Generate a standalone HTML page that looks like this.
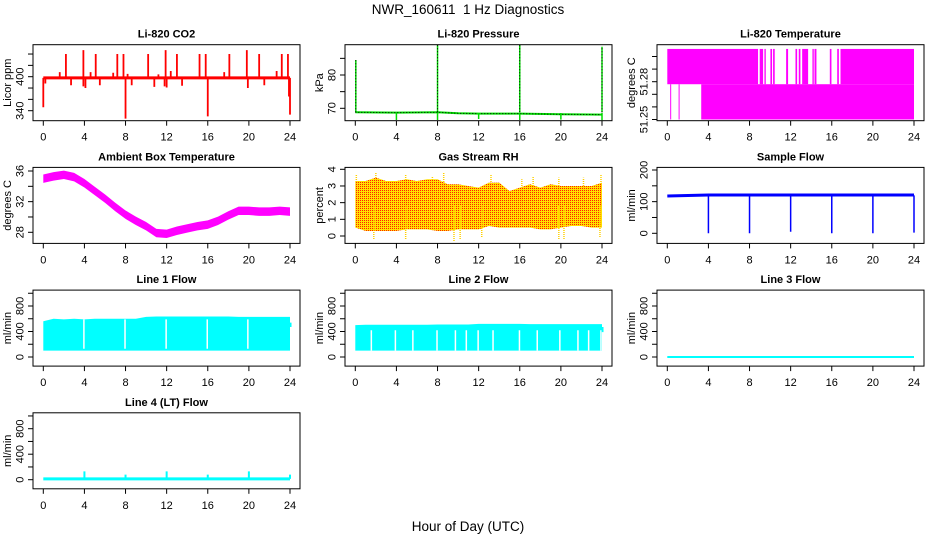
<!DOCTYPE html>
<html><head><meta charset="utf-8"><style>
html,body{margin:0;padding:0;background:#fff;overflow:hidden}
svg{display:block;font-family:"Liberation Sans",sans-serif}
</style></head><body>
<svg id="chart" width="936" height="540" viewBox="0 0 936 540">
<defs>
<pattern id="rhpat" width="2" height="2" patternUnits="userSpaceOnUse">
<rect width="2" height="2" fill="#ffe000"/><rect width="1" height="1" fill="#ff2000"/>
</pattern>
</defs>
<rect width="936" height="540" fill="#fff"/>
<text x="468" y="14" font-size="13.5" text-anchor="middle" xml:space="preserve">NWR_160611  1 Hz Diagnostics</text>
<text x="468" y="531" font-size="13.5" text-anchor="middle">Hour of Day (UTC)</text>
</svg>
<script>
// ---- data ----
const xTicks = [0,4,8,12,16,20,24];
const co2Base = 398;
const co2SpikeT = [2.2,3.9,5.1,7.2,7.8,10.2,11.9,13.0,15.2,15.8,18.1,19.8,21.0,23.2,23.8,1.6,4.6,6.8,12.4,17.6,22.7,8.2,11.2];
const co2SpikeV = [440,447,440,440,440,440,447,440,440,440,440,447,440,440,440,408,408,407,410,408,410,405,404];
const co2DipT = [0,0.2,2.7,3.9,4.1,5.5,8.0,8.6,10.8,11.8,12.0,13.5,16.0,19.9,21.5,23.9,24.0];
const co2DipV = [346,388,385,383,380,385,326,385,382,383,381,384,330,380,385,365,333];
const presT = [0,4,8,10,12,16,20,24];
const presV = [68.8,68.7,68.8,68.5,68.4,68.4,68.2,68.1];
const presSpikeT = [0.05,8,16,24];
const presSpikeV = [84.5,89,89,88.5];
const presDipT = [4,8,12,16,20,24];
const presDipV = [66.5,66.5,66.8,66.5,66.6,66.4];
const tempSegStart = [0,8.99,9.45,10.03,10.29,11.56,12.47,12.79,13.12,14.12,14.32,15.81,16.53,16.85,3.3,0.28,1.1];
const tempSegEnd   = [8.83,9.32,9.58,10.19,10.45,11.75,12.63,12.95,13.7,14.25,14.51,15.97,16.69,24,24,0.33,1.15];
const tempSegLo    = [51.278,51.278,51.278,51.278,51.278,51.278,51.278,51.278,51.278,51.278,51.278,51.278,51.278,51.278,51.25,51.25,51.25];
const tempSegHi    = [51.306,51.306,51.306,51.306,51.306,51.306,51.306,51.306,51.306,51.306,51.306,51.306,51.306,51.306,51.278,51.278,51.278];
const hours = [0,1,2,3,4,5,6,7,8,9,10,11,12,13,14,15,16,17,18,19,20,21,22,23,24];
const ambV = [35.0,35.3,35.5,35.2,34.4,33.4,32.4,31.3,30.3,29.5,28.8,27.9,27.8,28.2,28.5,28.8,29.0,29.5,30.2,30.8,30.8,30.7,30.7,30.8,30.7];
const rhHi = [3.3,3.3,3.5,3.3,3.3,3.4,3.3,3.4,3.4,3.1,3.1,3.0,2.9,3.2,3.2,2.7,2.9,3.1,2.9,3.1,3.0,3.0,3.0,3.0,3.2];
const rhLo = [0.5,0.3,0.3,0.3,0.3,0.4,0.4,0.4,0.3,0.3,0.4,0.4,0.4,0.6,0.5,0.5,0.5,0.5,0.4,0.4,0.5,0.6,0.6,0.5,0.5];
const rhSpikeT = [0.1,2.0,4.9,7.5,8.6,13.2,16.2,17.3,19.8,22.2,23.9,1.8,4.9,9.6,10.2,12.3,19.8,20.3,23.8];
const rhSpikeV = [3.7,3.8,3.7,3.6,3.8,3.7,3.4,3.6,3.5,3.5,3.7,-0.2,-0.2,-0.3,-0.2,-0.1,-0.2,-0.2,-0.1];
const sampleBaseT = [0,4,24];
const sampleBaseV = [118,121,121];
const sampleDipT = [4,8,12,16,20,24];
const sampleDipV = [0,0,5,0,0,2];
const l1Hi = [560,600,590,600,590,600,600,600,600,600,630,635,635,635,635,635,635,635,635,630,630,630,630,630,630];
const l1Lo = 100;
const l1GapT = [3.95,7.95,11.95,15.95,19.9];
const l2Hi = [500,505,505,505,505,505,505,505,510,510,510,510,520,520,520,520,520,515,515,515,515,515,515,515,515];
const l2Lo = 100;
const l2GapT = [1.56,3.9,5.6,7.95,9.74,10.8,11.95,13.4,15.97,17.7,19.9,21.66,22.7,23.9];
const l3V = 0;
const l4Base = 12;
const l4SpikeT = [4,8,12,16,20,24];
const l4SpikeV = [130,80,130,80,130,80];

// ---- helpers ----
const NS = "http://www.w3.org/2000/svg";
const svg = document.getElementById("chart");
function mk(tag, attrs, parent){
  const e = document.createElementNS(NS, tag);
  for (const k in attrs) e.setAttribute(k, attrs[k]);
  (parent||svg).appendChild(e);
  return e;
}
const colX = [33,345,657];
const rowY = [44.7,167.4,290.1,412.8];
function panel(name, col, row, title, ylab, v0, p0, v1, p1, yt, ylabels){
  const g = mk("g", {});
  
  
  const x0 = colX[col], x1 = x0 + 267, y0 = rowY[row], y1 = y0 + 76;
  const P = {g, x0, x1, y0, y1,
    sx: h => x0 + 10.3 + h * (246.7/24),
    sy: v => p0 + (v - v0) * ((p1 - p0) / (v1 - v0))};
  const clip = mk("clipPath", {id: "clip-" + name}, g);
  mk("rect", {x: x0, y: y0, width: 267, height: 76}, clip);
  P.plot = mk("g", {"clip-path": "url(#clip-" + name + ")"}, g);
  
  
  const box = mk("rect", {x: x0, y: y0, width: 267, height: 76, fill: "none", stroke: "#000", "stroke-width": 1}, g);
  
  
  const t = mk("text", {x: (x0 + x1)/2, y: y0 - 7, "font-size": 11, "font-weight": "bold", "text-anchor": "middle"}, g);
  t.textContent = title;
  
  
  const xa = mk("g", {}, g);
  
  
  xTicks.forEach(h => {
    const x = P.sx(h);
    mk("line", {x1: x, x2: x, y1: y1, y2: y1 + 5, stroke: "#000"}, xa);
    const l = mk("text", {x: x, y: y1 + 20, "font-size": 11, "text-anchor": "middle"}, xa);
    l.textContent = h;
    
    
  });
  const ya = mk("g", {}, g);
  
  
  yt.forEach(v => {
    const y = P.sy(v);
    mk("line", {x1: x0, x2: x0 - 5, y1: y, y2: y, stroke: "#000"}, ya);
  });
  ylabels.forEach(v => {
    const y = P.sy(+v);
    const l = mk("text", {x: 0, y: 0, "font-size": 11, "text-anchor": "middle", transform: `translate(${x0 - 9.5},${y}) rotate(-90)`}, ya);
    l.textContent = v;
    
    
  });
  const yl = mk("text", {x: 0, y: 0, "font-size": 11, "text-anchor": "middle", transform: `translate(${x0 - 22},${(y0 + y1)/2}) rotate(-90)`}, g);
  yl.textContent = ylab;
  
  
  return P;
}
function vline(P, h, a, b, color, w, dash){
  const o = {x1: P.sx(h), x2: P.sx(h), y1: P.sy(a), y2: P.sy(b), stroke: color, "stroke-width": w||1.5};
  if (dash) o["stroke-dasharray"] = dash;
  const e = mk("line", o, P.plot);
  
  
  return e;
}
function band(P, xs, hi, lo, fill, nm){
  let d = "M" + xs.map((h,i) => P.sx(h) + "," + P.sy(hi[i])).join("L");
  d += "L" + xs.slice().reverse().map((h,i) => P.sx(h) + "," + P.sy(lo[xs.length - 1 - i])).join("L") + "Z";
  const e = mk("path", {d: d, fill: fill}, P.plot);
  
  
  return e;
}

// ---- Li-820 CO2 ----
{
  const P = panel("co2", 0, 0, "Li-820 CO2", "Licor ppm", 400, 76.7, 340, 110.7, [340,360,380,400,420,440], ["340","400"]);
  co2SpikeT.forEach((h,i) => vline(P, h, co2Base, co2SpikeV[i], "#ff0000", 1.8));
  co2DipT.forEach((h,i) => vline(P, h, co2Base, co2DipV[i], "#ff0000", 1.8));
  const b = mk("line", {x1: P.sx(0), x2: P.sx(24), y1: P.sy(co2Base), y2: P.sy(co2Base), stroke: "#ff0000", "stroke-width": 3}, P.plot);
  
  
}
// ---- Pressure ----
{
  const P = panel("pressure", 1, 0, "Li-820 Pressure", "kPa", 70, 108.3, 80, 75, [70,75,80,85], ["70","80"]);
  const pts = presT.map((h,i) => P.sx(h) + "," + P.sy(presV[i])).join(" ");
  const l = mk("polyline", {points: pts, fill: "none", stroke: "#00dd00", "stroke-width": 2}, P.plot);
  
  
  const l2 = mk("polyline", {points: pts, fill: "none", stroke: "#000", "stroke-width": 1, "stroke-dasharray": "1,2"}, P.plot);
  
  
  presSpikeT.forEach((h,i) => { vline(P, h, 68.8, presSpikeV[i], "#00dd00", 1.5); vline(P, h, 68.8, presSpikeV[i], "#000", 1, "1,2"); });
  presDipT.forEach((h,i) => vline(P, h, 68.6, presDipV[i], "#00dd00", 1.5));
}
// ---- Li-820 Temperature ----
{
  const P = panel("li820-temp", 2, 0, "Li-820 Temperature", "degrees C", 51.25, 119.5, 51.28, 81.7, [51.25,51.26,51.27,51.28,51.29,51.30], ["51.25","51.28"]);
  tempSegStart.forEach((s,i) => {
    const r = mk("rect", {x: P.sx(s), width: Math.max(1, P.sx(tempSegEnd[i]) - P.sx(s)), y: P.sy(tempSegHi[i]), height: P.sy(tempSegLo[i]) - P.sy(tempSegHi[i]), fill: "#ff00ff"}, P.plot);
    
    
  });
}
// ---- Ambient Box Temperature ----
{
  const P = panel("ambient-temp", 0, 1, "Ambient Box Temperature", "degrees C", 36, 171, 28, 232.3, [28,30,32,34,36], ["28","32","36"]);
  band(P, hours, ambV.map(v => v + 0.55), ambV.map(v => v - 0.55), "#ff00ff", "ambient-temp-band");
}
// ---- Gas Stream RH ----
{
  const P = panel("gas-rh", 1, 1, "Gas Stream RH", "percent", 0, 236, 4, 169.3, [0,1,2,3,4], ["0","1","2","3","4"]);
  band(P, hours, rhHi, rhLo, "url(#rhpat)", "rh-band");
  rhSpikeT.forEach((h,i) => vline(P, h, 1.8, rhSpikeV[i], "#ffd000", 1.5, "1,1"));
}
// ---- Sample Flow ----
{
  const P = panel("sample-flow", 2, 1, "Sample Flow", "ml/min", 0, 233.3, 200, 170, [0,50,100,150,200], ["0","100","200"]);
  const pts = sampleBaseT.map((h,i) => P.sx(h) + "," + P.sy(sampleBaseV[i])).join(" ");
  const l = mk("polyline", {points: pts, fill: "none", stroke: "#0000ff", "stroke-width": 3}, P.plot);
  
  
  sampleDipT.forEach((h,i) => vline(P, h, 120, sampleDipV[i], "#0000ff", 1.5));
}
// ---- Line flows ----
function flowPanel(name, col, row, title){
  const off = rowY[row] - rowY[2];
  return panel(name, col, row, title, "ml/min", 0, 357 + off, 800, 306 + off, [0,200,400,600,800,1000], ["0","400","800"]);
}
{
  const P = flowPanel("line1-flow", 0, 2, "Line 1 Flow");
  band(P, hours, l1Hi, hours.map(() => l1Lo), "#00ffff", "line1-band");
  l1GapT.forEach(h => vline(P, h, l1Lo + 30, 590, "#fff", 1.5));
  vline(P, 24.05, 470, 540, "#00ffff", 2);
}
{
  const P = flowPanel("line2-flow", 1, 2, "Line 2 Flow");
  band(P, hours, l2Hi, hours.map(() => l2Lo), "#00ffff", "line2-band");
  l2GapT.forEach(h => vline(P, h, l2Lo, 420, "#fff", 1.5));
  vline(P, 24.05, 390, 470, "#00ffff", 2);
}
{
  const P = flowPanel("line3-flow", 2, 2, "Line 3 Flow");
  const l = mk("line", {x1: P.sx(0), x2: P.sx(24), y1: P.sy(l3V), y2: P.sy(l3V), stroke: "#00ffff", "stroke-width": 2}, P.plot);
  
  
}
{
  const P = flowPanel("line4-flow", 0, 3, "Line 4 (LT) Flow");
  const l = mk("line", {x1: P.sx(0), x2: P.sx(24), y1: P.sy(l4Base), y2: P.sy(l4Base), stroke: "#00ffff", "stroke-width": 3}, P.plot);
  
  
  l4SpikeT.forEach((h,i) => vline(P, h, l4Base, l4SpikeV[i], "#00ffff", 2));
}
</script>
</body></html>
